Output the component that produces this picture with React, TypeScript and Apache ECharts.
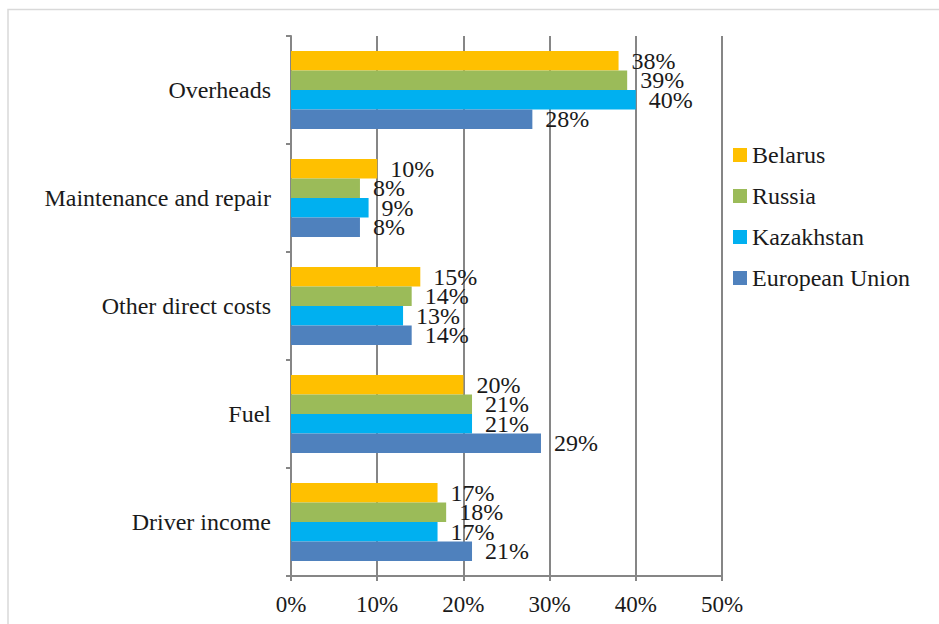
import React, { useEffect, useRef } from "react";
import * as echarts from "echarts";

const categories = ["Driver income", "Fuel", "Other direct costs", "Maintenance and repair", "Overheads"];
const belarus = [17, 20, 15, 10, 38];
const russia = [18, 21, 14, 8, 39];
const kazakhstan = [17, 21, 13, 9, 40];
const europeanUnion = [21, 29, 14, 8, 28];
const legendOrder = ["Belarus", "Russia", "Kazakhstan", "European Union"];

const FONT = "Times New Roman, Liberation Serif, serif";

export default function App() {
  const ref = useRef<HTMLDivElement>(null);
  useEffect(() => {
    if (!ref.current) return;
    const chart = echarts.init(ref.current, null, { renderer: "svg" });
    const mk = (name: string, data: number[], color: string) => ({
      name,
      type: "bar",
      data,
      barGap: "0%",
      barCategoryGap: "28%",
      itemStyle: { color },
      label: {
        show: true,
        position: "right",
        distance: 13,
        formatter: "{c}%",
        fontFamily: FONT,
        fontSize: 24,
        color: "#1a1a1a",
      },
    });
    chart.setOption({
      animation: false,
      textStyle: { fontFamily: FONT },
      graphic: [
        {
          type: "rect",
          shape: { x: 8, y: 9.5, width: 1200, height: 1200 },
          style: { fill: "none", stroke: "#d9d9d9", lineWidth: 1.5 },
          silent: true,
        },
      ],
      legend: {
        data: legendOrder,
        orient: "vertical",
        left: 733,
        top: 143,
        padding: 0,
        itemWidth: 14,
        itemHeight: 14,
        itemGap: 17,
        icon: "rect",
        textStyle: { fontFamily: FONT, fontSize: 24, color: "#1a1a1a" },
      },
      grid: { left: 291, right: 217, top: 36, bottom: 48, containLabel: false },
      xAxis: {
        type: "value",
        min: 0,
        max: 50,
        interval: 10,
        axisLine: { show: true, lineStyle: { color: "#868686", width: 2 } },
        axisTick: { show: true, length: 5, lineStyle: { color: "#868686", width: 2 } },
        splitLine: { show: true, lineStyle: { color: "#868686", width: 2 } },
        axisLabel: {
          formatter: "{value}%",
          fontFamily: FONT,
          fontSize: 23,
          color: "#1a1a1a",
          margin: 17,
        },
      },
      yAxis: {
        type: "category",
        data: categories,
        axisLine: { show: true, lineStyle: { color: "#868686", width: 2 } },
        axisTick: { show: true, length: 5, lineStyle: { color: "#868686", width: 2 } },
        axisLabel: { fontFamily: FONT, fontSize: 24, color: "#1a1a1a", margin: 20 },
      },
      series: [
        mk("Belarus", belarus, "#FFC000"),
        mk("Russia", russia, "#9BBB59"),
        mk("Kazakhstan", kazakhstan, "#00B0F0"),
        mk("European Union", europeanUnion, "#4F81BD"),
      ],
    });
    return () => chart.dispose();
  }, []);
  return (
    <div
      ref={ref}
      style={{ position: "absolute", left: 0, top: 0, width: 939, height: 624, background: "#fff" }}
    />
  );
}
